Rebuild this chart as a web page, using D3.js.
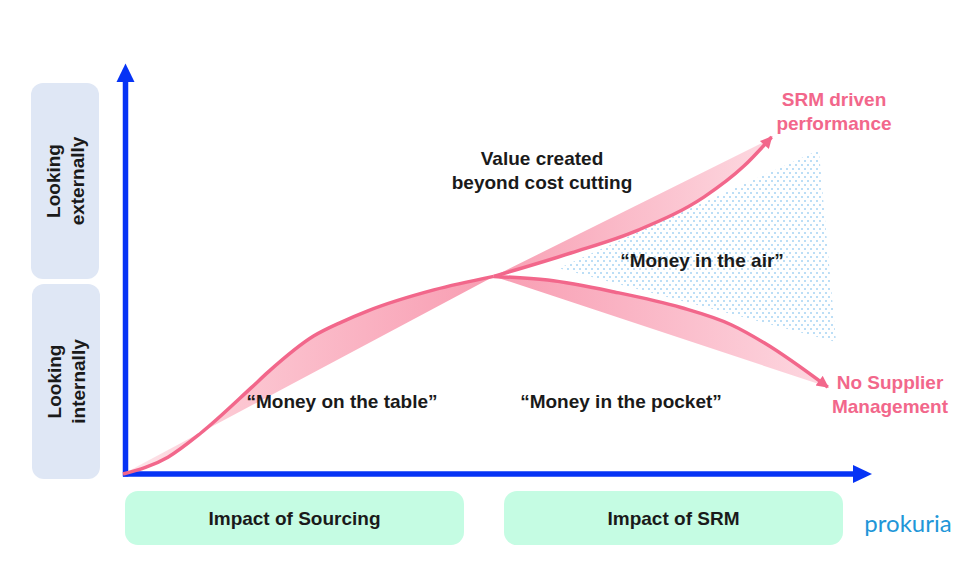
<!DOCTYPE html>
<html>
<head>
<meta charset="utf-8">
<script src="https://cdn.jsdelivr.net/npm/d3@7"></script>
<style>
  body { margin: 0; background: #fff; }
  text { font-family: "Liberation Sans", Arial, sans-serif; font-weight: bold; }
</style>
</head>
<body>
<div id="chart"></div>
<script>
// curves in a 0-10 "impact" space, origin at the axes corner
const sourcingCurve = [[0, 0], [0.60, 0.41], [1.04, 1.00], [1.71, 2.10], [1.94, 2.49], [2.55, 3.37], [2.91, 3.70], [3.27, 3.98], [4.15, 4.49], [4.95, 4.82]];
const sourcingChord = [[0, 0], [4.95, 4.82]];
const srmCurve = [[4.95, 4.82], [5.98, 5.39], [6.88, 5.95], [7.76, 6.76], [8.29, 7.51], [8.66, 8.22]];
const srmEdge = [[4.95, 4.82], [8.58, 8.12]];
const pocketCurve = [[4.95, 4.82], [5.67, 4.73], [6.56, 4.44], [7.45, 4.06], [8.12, 3.64], [8.56, 3.20], [9.41, 2.12]];
const pocketEdge = [[4.95, 4.82], [9.25, 2.22]];
const airArea = [[5.82, 5.02], [9.29, 7.90], [9.52, 3.22]];

const phaseLabels = ["Impact of Sourcing", "Impact of SRM"];
const viewLabels = [["Looking", "externally"], ["Looking", "internally"]];
const outcomeLabels = [["SRM driven", "performance"], ["No Supplier", "Management"]];
const moneyLabels = ["\u201cMoney on the table\u201d", "\u201cMoney in the pocket\u201d", "\u201cMoney in the air\u201d"];
const valueLabels = ["Value created", "beyond cost cutting"];
const brand = "prokuria";

const width = 980, height = 571;
const pink = "#f2678b", blue = "#0633f5", ink = "#1a1a1a";

const x = d3.scaleLinear().domain([0, 10]).range([123, 872]);
const y = d3.scaleLinear().domain([0, 10]).range([474, 64]);

const svg = d3.select("#chart").append("svg")
  .attr("width", width).attr("height", height);

const defs = svg.append("defs");

const grad = (id, x1, x2, stops) => {
  const g = defs.append("linearGradient").attr("id", id)
    .attr("gradientUnits", "userSpaceOnUse")
    .attr("x1", x1).attr("x2", x2).attr("y1", 0).attr("y2", 0);
  stops.forEach(([o, c]) => g.append("stop").attr("offset", o).attr("stop-color", c));
};
grad("gSourcing", x(0), x(4.95), [[0, "#fde8ec"], [0.3, "#fcc7d2"], [1, "#f89db2"]]);
grad("gSrm", x(4.95), x(8.6), [[0, "#f8a0b4"], [1, "#fdd8e0"]]);
grad("gPocket", x(4.95), x(9.3), [[0, "#f89db2"], [1, "#fdd6df"]]);

const dots = defs.append("pattern").attr("id", "dots")
  .attr("patternUnits", "userSpaceOnUse").attr("width", 6).attr("height", 8);
dots.append("circle").attr("cx", 1).attr("cy", 1).attr("r", 0.7).attr("fill", "#45a2e6");
dots.append("circle").attr("cx", 4).attr("cy", 5).attr("r", 0.7).attr("fill", "#45a2e6");

defs.append("marker").attr("id", "pinkHead")
  .attr("viewBox", "0 0 10 10").attr("refX", 9).attr("refY", 5)
  .attr("markerUnits", "userSpaceOnUse").attr("markerWidth", 14).attr("markerHeight", 12)
  .attr("orient", "auto")
  .append("path").attr("d", "M0,0 L10,5 L0,10 Z").attr("fill", pink);

// side boxes
const sideBoxes = [[83, 279], [284, 479]];
viewLabels.forEach((lines, i) => {
  const [top, bot] = sideBoxes[i];
  svg.append("rect").attr("x", 31 + i).attr("y", top).attr("width", 68).attr("height", bot - top)
    .attr("rx", 12).attr("fill", "#dfe7f5");
  const cy = (top + bot) / 2;
  lines.forEach((t, j) => {
    svg.append("text").attr("transform", `translate(${60 + j * 24 + i},${cy}) rotate(-90)`)
      .attr("text-anchor", "middle").attr("font-size", 19).attr("fill", ink).text(t);
  });
});

// bottom boxes
const phaseBoxes = [[125, 464], [504, 843]];
phaseLabels.forEach((t, i) => {
  const [l, r] = phaseBoxes[i];
  svg.append("rect").attr("x", l).attr("y", 491).attr("width", r - l).attr("height", 54)
    .attr("rx", 13).attr("fill", "#c5fce3");
  svg.append("text").attr("x", (l + r) / 2).attr("y", 525).attr("text-anchor", "middle")
    .attr("font-size", 19).attr("fill", ink).text(t);
});

// axes
const ox = 125.5, oy = 474;
svg.append("line").attr("x1", ox).attr("y1", oy + 2.5).attr("x2", ox).attr("y2", 80)
  .attr("stroke", blue).attr("stroke-width", 5.5);
svg.append("path").attr("d", `M${ox - 9},82 L${ox},${y(10) - 0.5} L${ox + 9},82 Z`).attr("fill", blue);
svg.append("line").attr("x1", ox - 2.5).attr("y1", oy).attr("x2", 855).attr("y2", oy)
  .attr("stroke", blue).attr("stroke-width", 5.5);
svg.append("path").attr("d", `M853,${oy - 9} L${x(10)},${oy} L853,${oy + 9} Z`).attr("fill", blue);

// money in the air
svg.append("path")
  .attr("d", "M" + airArea.map(d => [x(d[0]), y(d[1])].join(",")).join("L") + "Z")
  .attr("fill", "url(#dots)");

const line = d3.line().x(d => x(d[0])).y(d => y(d[1])).curve(d3.curveMonotoneX);
const band = (curve, edge) => line(curve) + "L" + edge.slice().reverse().map(d => [x(d[0]), y(d[1])].join(",")).join("L") + "Z";

svg.append("path").attr("d", band(sourcingCurve, sourcingChord)).attr("fill", "url(#gSourcing)");
svg.append("path").attr("d", band(srmCurve, srmEdge)).attr("fill", "url(#gSrm)");
svg.append("path").attr("d", band(pocketCurve, pocketEdge)).attr("fill", "url(#gPocket)");

svg.append("path").attr("d", line(sourcingCurve)).attr("fill", "none")
  .attr("stroke", pink).attr("stroke-width", 3.5);
svg.append("path").attr("d", line(srmCurve)).attr("fill", "none")
  .attr("stroke", pink).attr("stroke-width", 3.5).attr("marker-end", "url(#pinkHead)");
svg.append("path").attr("d", line(pocketCurve)).attr("fill", "none")
  .attr("stroke", pink).attr("stroke-width", 3.5).attr("marker-end", "url(#pinkHead)");

// texts
const addLines = (lines, cx, base, color) => lines.forEach((t, i) =>
  svg.append("text").attr("x", cx).attr("y", base + i * 24).attr("text-anchor", "middle")
    .attr("font-size", 19).attr("fill", color).text(t));

addLines(valueLabels, 542, 165, ink);
addLines(outcomeLabels[0], 834, 105.5, pink);
addLines(outcomeLabels[1], 890, 389, pink);
addLines([moneyLabels[0]], 342, 408, ink);
addLines([moneyLabels[1]], 621, 408, ink);
addLines([moneyLabels[2]], 702, 266.5, ink);

svg.append("text").attr("x", 908).attr("y", 531.5).attr("text-anchor", "middle")
  .style("font-family", "Lato, 'Open Sans', sans-serif").style("font-weight", 400)
  .attr("font-size", 24).attr("fill", "#2196d8").text(brand);
</script>
</body>
</html>
